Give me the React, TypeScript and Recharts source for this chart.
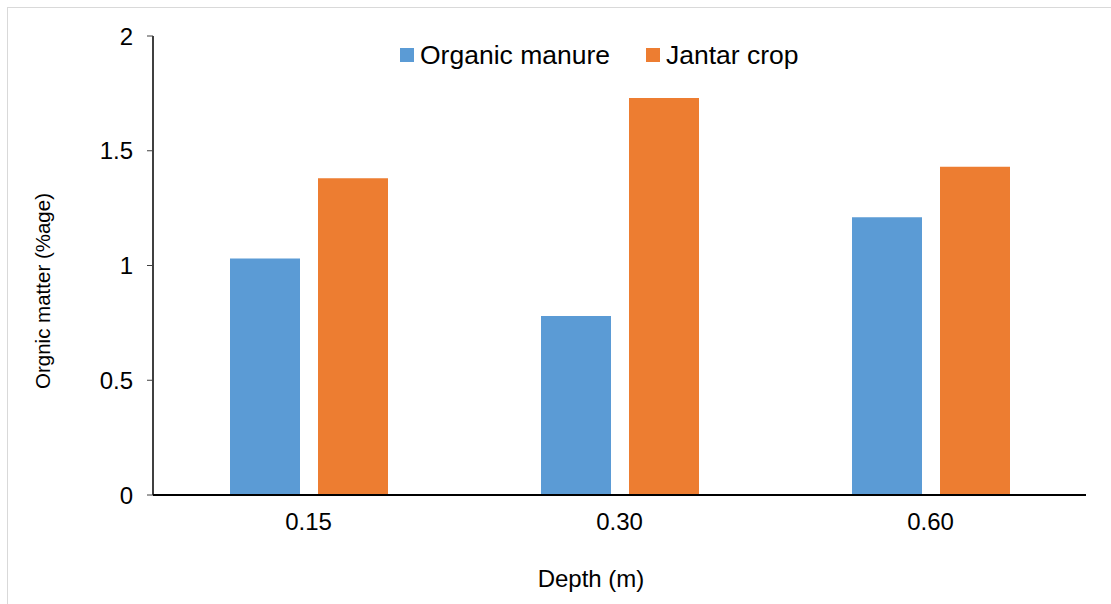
import { BarChart, Bar, XAxis, YAxis } from 'recharts';

const depths = ['0.15', '0.30', '0.60'];
const organicManure = [1.03, 0.78, 1.21];
const jantarCrop = [1.38, 1.73, 1.43];
const yTicks = [0, 0.5, 1, 1.5, 2];
const seriesNames = ['Organic manure', 'Jantar crop'];

const BLUE = '#5B9BD5';
const ORANGE = '#ED7D31';
const FONT = '"Liberation Sans", Arial, sans-serif';

const data = depths.map((d, i) => ({
  depth: d,
  organic: organicManure[i],
  jantar: jantarCrop[i],
}));

function ChartLegend() {
  const colors = [BLUE, ORANGE];
  return (
    <div style={{ position: 'absolute', left: 400, top: 37, display: 'flex', alignItems: 'center', fontFamily: FONT, fontSize: 26.5, color: '#000', lineHeight: '36px' }}>
      {seriesNames.map((label, i) => (
        <div key={label} style={{ display: 'flex', alignItems: 'center', marginRight: 36 }}>
          <span style={{ width: 14, height: 14, background: colors[i], display: 'inline-block', marginRight: 6 }} />
          <span>{label}</span>
        </div>
      ))}
    </div>
  );
}

export default function App() {
  return (
    <div style={{ position: 'absolute', left: 0, top: 0, width: 1111, height: 604, background: '#fff', overflow: 'hidden' }}>
      <div style={{ position: 'absolute', left: 7, top: 7, width: 1200, height: 700, borderLeft: '1px solid #d9d9d9', borderTop: '1px solid #d9d9d9' }} />
      <BarChart
        width={1111}
        height={604}
        data={data}
        margin={{ top: 36, right: 25, left: 0, bottom: 0 }}
        barGap={18}
        barSize={70}
        style={{ position: 'absolute', left: 0, top: 0 }}
      >
        <XAxis
          dataKey="depth"
          height={109}
          axisLine={{ stroke: '#000', strokeWidth: 2 }}
          tickLine={false}
          tickSize={0}
          tickMargin={18}
          tick={{ fontSize: 24, fill: '#000', fontFamily: FONT }}
          label={{
            content: () => (
              <text x={591} y={578} textAnchor="middle" dominantBaseline="central" fontSize={24} fontFamily={FONT} fill="#000">
                Depth (m)
              </text>
            ),
          }}
        />
        <YAxis
          width={153}
          domain={[0, 2]}
          ticks={yTicks}
          axisLine={{ stroke: '#000', strokeWidth: 1.5 }}
          tickLine={{ stroke: '#404040' }}
          tickSize={6}
          tickMargin={14}
          tick={{ fontSize: 24, fill: '#000', fontFamily: FONT }}
          label={{
            content: () => (
              <text x={42} y={291} transform="rotate(-90, 42, 291)" textAnchor="middle" dominantBaseline="central" fontSize={20.5} fontFamily={FONT} fill="#000">
                Orgnic matter (%age)
              </text>
            ),
          }}
        />
        <Bar dataKey="organic" name={seriesNames[0]} fill={BLUE} isAnimationActive={false} />
        <Bar dataKey="jantar" name={seriesNames[1]} fill={ORANGE} isAnimationActive={false} />
      </BarChart>
      <ChartLegend />
    </div>
  );
}
